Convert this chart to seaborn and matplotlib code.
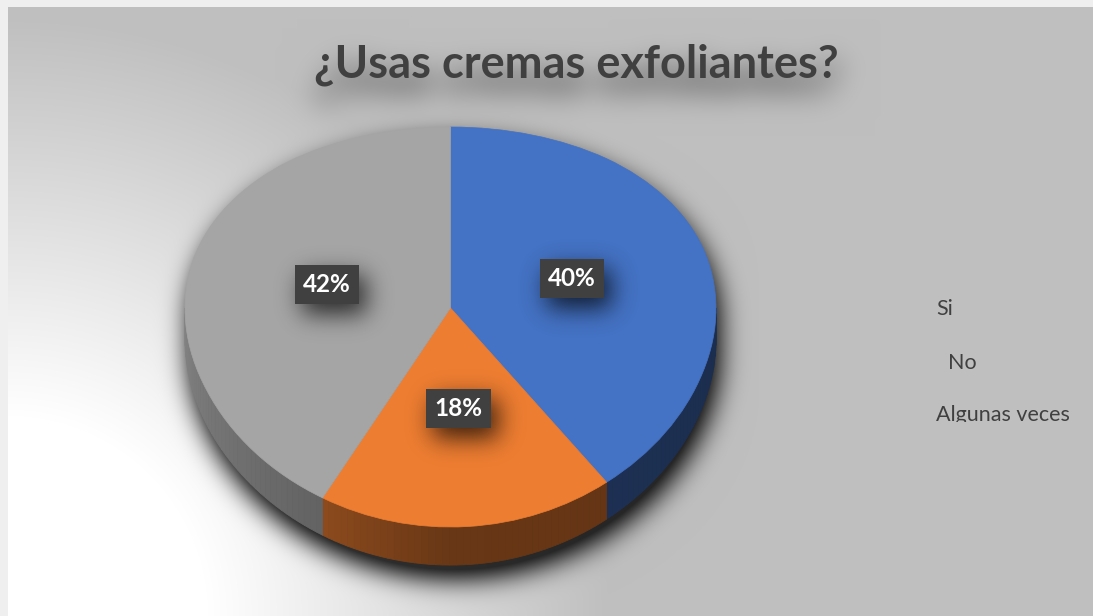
import numpy as np
import matplotlib
matplotlib.use("Agg")
import matplotlib.pyplot as plt
import seaborn as sns
from matplotlib.patches import Polygon
from matplotlib.transforms import Bbox, TransformedBbox

# ---- data -------------------------------------------------------------
categories = ["Si", "No", "Algunas veces"]
shares = [40, 18, 42]
title_text = "¿Usas cremas exfoliantes?"

# ---- style ------------------------------------------------------------
sns.set_theme(style="white")
plt.rcParams["font.family"] = ["Lato", "DejaVu Sans"]

W, H, DPI = 1093, 616, 100
face_colors = sns.color_palette(["#4472C4", "#ED7D31", "#A5A5A5"])
TEXT_DARK = "#404040"

# pie placement (pixels) and 3-D look
CX, CY, RX, RY = 450.5, 327.0, 265.5, 200.0
TILT = 0.095      # perspective: pulls the pie centre upwards
DEPTH = 0.158     # thickness of the disc in data units
LABEL_R = 0.48


def fwd(y):
    y = np.asarray(y, float)
    return y + TILT * (1.0 - y ** 2)


def inv(s):
    s = np.asarray(s, float)
    return (1.0 - np.sqrt(np.clip(1.0 - 4.0 * TILT * (s - TILT), 0, None))) / (2.0 * TILT)


def setup_axes(a, z):
    a.set_zorder(z)
    a.patch.set_alpha(0)
    a.set_yscale("function", functions=(fwd, inv))
    a.set_aspect("auto")
    a.set_xlim(-CX / RX, (W - CX) / RX)
    a.set_ylim(float(inv((CY - H) / RY)), float(inv(CY / RY)))
    a.set_axis_off()


fig = plt.figure(figsize=(W / DPI, H / DPI), dpi=DPI)

# ---- pie top faces ----------------------------------------------------
ax = fig.add_axes([0, 0, 1, 1])
wedges, _ = ax.pie(shares, colors=face_colors, startangle=90, counterclock=False,
                   radius=1, center=(0, 0),
                   wedgeprops=dict(linewidth=0.5, zorder=2))
for w in wedges:
    w.set_edgecolor(w.get_facecolor())
setup_axes(ax, 1)


# ---- pie side walls (front half only) ---------------------------------
def shade_at(a):
    return np.interp(a, [-180, -120, -90, 0], [0.80, 0.60, 0.44, 0.40])


for w, col in zip(wedges, face_colors):
    for k in (-360, 0, 360):
        lo = max(w.theta1, -180 + k)
        hi = min(w.theta2, k)
        if hi <= lo:
            continue
        steps = np.linspace(lo, hi, max(2, int((hi - lo) / 1.5) + 1))
        for a0, a1 in zip(steps[:-1], steps[1:]):
            ang = np.radians([a0, a1])
            xs, ys = np.cos(ang), np.sin(ang)
            poly = [(xs[0], ys[0]), (xs[1], ys[1]),
                    (xs[1], ys[1] - DEPTH), (xs[0], ys[0] - DEPTH)]
            c = np.clip(np.array(col) * shade_at((a0 + a1) / 2 - k), 0, 1)
            ax.add_patch(Polygon(poly, closed=True, fc=c, ec=c, lw=0.6, zorder=1))

# ---- percentage labels ------------------------------------------------
ax_lab = fig.add_axes([0, 0, 1, 1])
setup_axes(ax_lab, 3)
label_texts = []
for w, v in zip(wedges, shares):
    mid = np.radians((w.theta1 + w.theta2) / 2)
    t = ax_lab.text(LABEL_R * np.cos(mid), LABEL_R * np.sin(mid), f"{v}%",
                    ha="center", va="center", color="white", fontsize=17.5,
                    fontweight="bold",
                    bbox=dict(boxstyle="square,pad=0.33", fc="#404040", ec="none"))
    label_texts.append(t)

# ---- title ------------------------------------------------------------
title_kw = dict(ha="center", va="baseline", fontsize=32.5, fontweight="bold")
fig.text(576 / W, 1 - 78 / H, title_text, color=TEXT_DARK, zorder=3, **title_kw)

# ---- legend entries (text only) ---------------------------------------
legend_x = [936, 948, 936]
legend_base = [315, 369, 421]
legend_clip = TransformedBbox(Bbox([[0, 1 - 421.5 / H], [1, 1]]), fig.transFigure)
for name, lx, ly in zip(categories, legend_x, legend_base):
    lt = fig.text(lx / W, 1 - ly / H, name, ha="left", va="baseline",
                  fontsize=15.5, color=TEXT_DARK, zorder=3)
    lt.set_clip_box(legend_clip)
    lt.set_clip_on(True)

fig.canvas.draw()
renderer = fig.canvas.get_renderer()


# ---- shadows and background -------------------------------------------
def blur(img, sigma):
    r = int(3 * sigma)
    k = np.exp(-0.5 * (np.arange(-r, r + 1) / sigma) ** 2)
    k /= k.sum()
    out = np.apply_along_axis(lambda m: np.convolve(m, k, mode="same"), 0, img)
    out = np.apply_along_axis(lambda m: np.convolve(m, k, mode="same"), 1, out)
    return out


def shift(img, dx, dy):
    out = np.zeros_like(img)
    h, w = img.shape
    out[max(dy, 0):h + min(dy, 0), max(dx, 0):w + min(dx, 0)] = \
        img[max(-dy, 0):h - max(dy, 0), max(-dx, 0):w - max(dx, 0)]
    return out


# silhouette of the whole disc (top face + side)
pie_mask = np.zeros((H, W))
cols = np.arange(W) + 0.5
u = (cols - CX) / RX
inside = np.abs(u) < 1
uu = u[inside]
half = np.sqrt(1 - uu ** 2)
top_pix = ax.transData.transform(np.column_stack([uu, half]))[:, 1]
bot_pix = ax.transData.transform(np.column_stack([uu, -half - DEPTH]))[:, 1]
rows = np.arange(H)[:, None] + 0.5
rows_from_bottom = H - rows
pie_mask[:, inside] = ((rows_from_bottom <= top_pix[None, :]) &
                       (rows_from_bottom >= bot_pix[None, :])).astype(float)
pie_shadow = np.clip(blur(shift(pie_mask, 4, 14), 13) * 1.05, 0, 0.8)

# title glyph shadow
tmp = plt.figure(figsize=(W / DPI, H / DPI), dpi=DPI)
tmp.text(576 / W, 1 - 78 / H, title_text, color="black", **title_kw)
tmp.canvas.draw()
glyphs = 1 - np.asarray(tmp.canvas.buffer_rgba())[..., 0].astype(float) / 255
plt.close(tmp)
title_shadow = np.clip(blur(shift(glyphs, 2, 16), 14) * 0.7, 0, 0.3)

# radial background: white in the lower-left corner, grey elsewhere
yy, xx = np.mgrid[0:H, 0:W] + 0.5
r = np.hypot(xx - 8, yy - H)
t = np.clip((r - 200) / 400, 0, 1)
val = 1.0 - t * (1 - 0xBF / 255)
val = val * (1 - pie_shadow) * (1 - title_shadow)
bg = np.repeat(val[..., None], 3, axis=2)
bg[:7, :, :] = 0.94
bg[:, :8, :] = 0.94
fig.figimage(bg, xo=0, yo=0, origin="upper", zorder=-1)

# soft shadows under the label boxes
box_mask = np.zeros((H, W))
for t_ in label_texts:
    bb = t_.get_bbox_patch().get_window_extent(renderer)
    r0, r1 = int(round(H - bb.y1)), int(round(H - bb.y0))
    c0, c1 = int(round(bb.x0)), int(round(bb.x1))
    box_mask[r0:r1, c0:c1] = 1.0
box_alpha = np.clip(blur(shift(box_mask, 7, 10), 12) * 0.75, 0, 1)
overlay = np.zeros((H, W, 4))
overlay[..., 3] = box_alpha
fig.figimage(overlay, xo=0, yo=0, origin="upper", zorder=2)

fig.savefig("out.png", dpi=DPI)
